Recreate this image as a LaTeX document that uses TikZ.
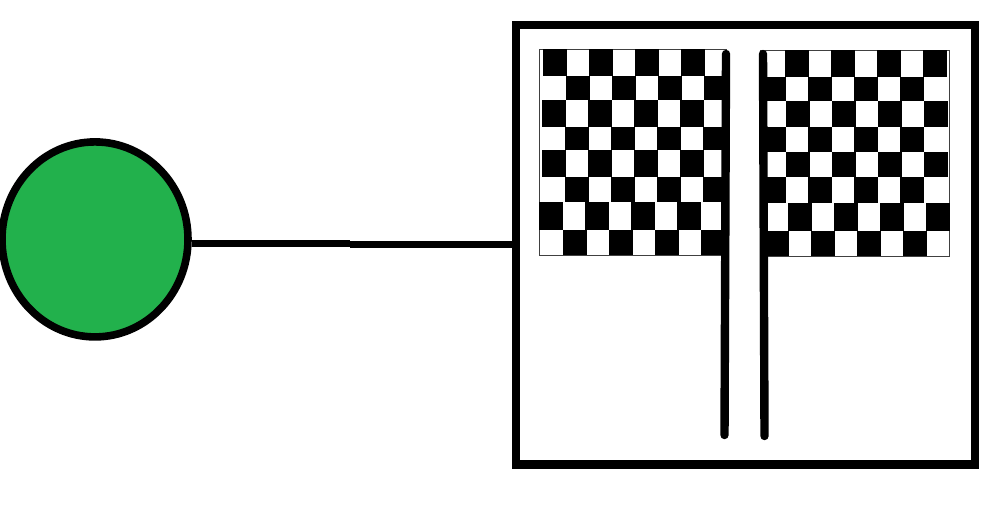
\documentclass[tikz,border=0pt]{standalone}
\usepackage{xcolor}
\usetikzlibrary{positioning,shapes.geometric}
\definecolor{lampgreen}{HTML}{22B14C}
\tikzset{
  lamp/.style={draw, ellipse, fill=lampgreen, line width=0.076cm, minimum width=1.86cm, minimum height=1.95cm, inner sep=0pt},
  frame/.style={draw, rectangle, line width=0.084cm, minimum width=4.587cm, minimum height=4.397cm, inner sep=0pt},
  wire/.style={line width=0.076cm},
  pole/.style={line width=0.084cm, line cap=round},
  flagedge/.style={draw=black!75, line width=0.008cm}
}
\begin{document}
\begin{tikzpicture}
\useasboundingbox (0,0) rectangle (9.85,5.07);
% green circle and the box
\node[lamp] (lamp) at (0.95,2.676) {};
\node[frame] (box) at (7.455,2.6225) {};
% connector, with its small step halfway
\coordinate (stepa) at (3.50,2.635);
\coordinate (stepb) at (3.50,2.625);
\draw[wire] (lamp.east |- stepa) -- (stepa);
\draw[wire] (stepb) -- (box.west |- stepb);
% left flag: top/bottom/first black square of each row
\draw[flagedge] (5.39,4.577) rectangle (7.26,2.52);
\foreach \ytop/\ybot/\xoff in {4.577/4.31/5.43, 4.31/4.07/5.66, 4.07/3.803/5.42, 3.803/3.57/5.65,
    3.57/3.303/5.42, 3.303/3.053/5.65, 3.053/2.77/5.39, 2.77/2.52/5.63}
  \foreach \i in {0,...,3}
    \fill ({\xoff+\i*0.46},\ytop) rectangle ({\xoff+\i*0.46+0.235},\ybot);
% right flag
\draw[flagedge] (7.60,4.57) rectangle (9.49,2.51);
\foreach \ytop/\ybot/\xoff in {4.57/4.303/7.85, 4.303/4.06/7.62, 4.06/3.797/7.86, 3.797/3.553/7.62,
    3.553/3.297/7.86, 3.297/3.04/7.62, 3.04/2.763/7.88, 2.763/2.51/7.65}
  \foreach \i in {0,...,3}
    \fill ({\xoff+\i*0.46},\ytop) rectangle ({\xoff+\i*0.46+0.235},\ybot);
% poles
\coordinate (polea) at (7.26,4.53);
\coordinate (poleb) at (7.245,0.72);
\coordinate (polec) at (7.63,4.53);
\coordinate (poled) at (7.645,0.71);
\draw[pole] (polea) -- (poleb);
\draw[pole] (polec) -- (poled);
\end{tikzpicture}
\end{document}
